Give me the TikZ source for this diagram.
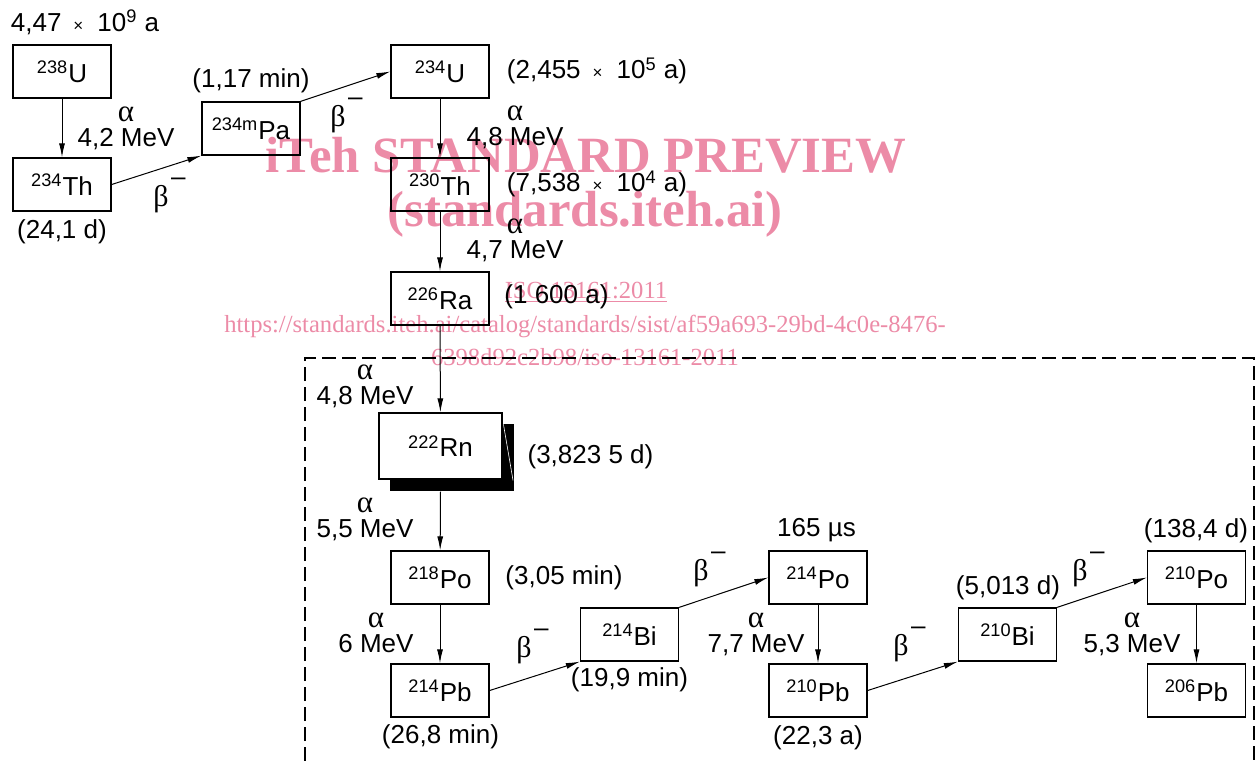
\documentclass[tikz,border=0pt]{standalone}
\usepackage{fontspec}
\setmainfont{Liberation Sans}
\newfontfamily\wmfont{Liberation Serif}
\usetikzlibrary{arrows.meta}

\definecolor{wmpink}{RGB}{236,139,167}

% upright greek letters, minus raised over the beta and not counted in the node size
\newcommand{\alphalbl}{{\wmfont\fontsize{15.5}{12.5}\selectfont α}}
\newcommand{\betaminus}{{\wmfont\fontsize{15}{15}\selectfont β}\rlap{\smash{\raisebox{0.8em}{\kern1.2pt\textendash}}}}
\newcommand{\tms}{{\fontsize{8.5}{8.5}\selectfont ×}}

\begin{document}
\begin{tikzpicture}[x=0.5pt, y=-0.5pt, font=\fontsize{13}{12.5}\selectfont,
  nuc/.style={draw, line width=0.65pt, minimum width=49pt, minimum height=26.5pt, inner sep=0pt},
  arr/.style={line width=0.5pt, -{Latex[length=7pt,width=3pt]}},
  decay/.style={align=center, inner sep=0pt},
  wm/.style={text=wmpink, inner sep=0pt}]

  \useasboundingbox (0,0) rectangle (1260,761);

  % watermark
  \node[wm, font=\wmfont\bfseries\fontsize{25.4}{28}\selectfont] (wmA) at (586,155) {iTeh STANDARD PREVIEW};
  \node[wm, font=\wmfont\bfseries\fontsize{25.4}{28}\selectfont] (wmB) at (585,214) {(standards.iteh.ai)};
  \node[wm, font=\wmfont\fontsize{12.3}{14}\selectfont] (wmC) at (586,292) {\underline{ISO 13161:2011}};
  \node[wm, font=\wmfont\fontsize{12.3}{14}\selectfont] (wmD) at (585,326)
    {https://standards.iteh.ai/catalog/standards/sist/af59a693-29bd-4c0e-8476-};
  \node[wm, font=\wmfont\fontsize{12.3}{14}\selectfont] (wmE) at (585,357) {6398d92c2b98/iso-13161-2011};

  % dashed frame round the radon part
  \draw[line width=0.65pt, dash pattern=on 7pt off 3pt] (305,761) -- (305,358) -- (1254,358) -- (1254,761);

  % upper chain
  \node[nuc] (U238) at (62,71.5) {\textsuperscript{238}U};
  \node[nuc] (Th234) at (62,184.5) {\textsuperscript{234}Th};
  \node[nuc] (Pa234) at (251,128.5) {\textsuperscript{234m}Pa};
  \node[nuc] (U234) at (440,71.5) {\textsuperscript{234}U};
  \node[nuc] (Th230) at (440,184.5) {\textsuperscript{230}Th};
  \node[nuc] (Ra226) at (440,298.5) {\textsuperscript{226}Ra};

  % radon with its stack
  \node[nuc, minimum width=61.5pt, minimum height=33pt] (Rn222) at (440.5,446) {};
  \fill[black] ([xshift=5.75pt,yshift=-5.75pt]Rn222.south west) rectangle ([xshift=5.75pt,yshift=-5.75pt]Rn222.north east);
  \draw[white, line width=0.3pt] ([xshift=0.4pt,yshift=-6pt]Rn222.north east) -- ([xshift=5.2pt,yshift=-0.4pt]Rn222.south east);
  \node[nuc, fill=white, minimum width=61.5pt, minimum height=33pt] (Rn222) at (440.5,446) {\textsuperscript{222}Rn};

  % lower chain
  \node[nuc] (Po218) at (440,577.5) {\textsuperscript{218}Po};
  \node[nuc] (Pb214) at (440,690.5) {\textsuperscript{214}Pb};
  \node[nuc] (Bi214) at (629.5,634.5) {\textsuperscript{214}Bi};
  \node[nuc] (Po214) at (818,577.5) {\textsuperscript{214}Po};
  \node[nuc] (Pb210) at (818,690.5) {\textsuperscript{210}Pb};
  \node[nuc] (Bi210) at (1007.5,634.5) {\textsuperscript{210}Bi};
  \node[nuc] (Po210) at (1196.5,577.5) {\textsuperscript{210}Po};
  \node[nuc] (Pb206) at (1196.5,690.5) {\textsuperscript{206}Pb};

  % decays
  \draw[arr] (U238) -- (Th234);
  \draw[arr] (Th234.east) -- (Pa234.south west);
  \draw[arr] (Pa234.north east) -- (U234.west);
  \draw[arr] (U234) -- (Th230);
  \draw[arr] (Th230) -- (Ra226);
  \draw[arr] (Ra226) -- (Rn222);
  \draw[arr] (Rn222.south) ++(0,12) -- (Po218);
  \draw[arr] (Po218) -- (Pb214);
  \draw[arr] (Pb214.east) -- (Bi214.south west);
  \draw[arr] (Bi214.north east) -- (Po214.west);
  \draw[arr] (Po214) -- (Pb210);
  \draw[arr] (Pb210.east) -- (Bi210.south west);
  \draw[arr] (Bi210.north east) -- (Po210.west);
  \draw[arr] (Po210) -- (Pb206);

  % half-lives
  \node (tU238) at (85,22) {4,47\hspace{6pt}\tms\hspace{7pt}10\textsuperscript{9} a};
  \node (tTh234) at (62,232) {(24,1 d)};
  \node (tPa234) at (251,81) {(1,17 min)};
  \node (tU234) at (597,71) {(2,455\hspace{6pt}\tms\hspace{7pt}10\textsuperscript{5} a)};
  \node (tTh230) at (597,184) {(7,538\hspace{6pt}\tms\hspace{7pt}10\textsuperscript{4} a)};
  \node (tRa226) at (556.5,297) {(1 600 a)};
  \node (tRn222) at (590.5,457) {(3,823 5 d)};
  \node (tPo218) at (564,578) {(3,05 min)};
  \node (tPb214) at (440.5,737) {(26,8 min)};
  \node (tBi214) at (629.5,680) {(19,9 min)};
  \node (tPo214) at (816.5,530) {165 µs};
  \node (tPb210) at (818,738) {(22,3 a)};
  \node (tBi210) at (1008,588) {(5,013 d)};
  \node (tPo210) at (1196,531) {(138,4 d)};

  % alpha energies
  \node[decay] (aU238) at (126,128) {\alphalbl\\4,2 MeV};
  \node[decay] (aU234) at (515,127) {\alphalbl\\4,8 MeV};
  \node[decay] (aTh230) at (515,240.5) {\alphalbl\\4,7 MeV};
  \node[decay] (aRa226) at (365,386) {\alphalbl\\4,8 MeV};
  \node[decay] (aRn222) at (365,519) {\alphalbl\\5,5 MeV};
  \node[decay] (aPo218) at (376,633) {\alphalbl\\6 MeV};
  \node[decay] (aPo214) at (756,634) {\alphalbl\\7,7 MeV};
  \node[decay] (aPo210) at (1132,634) {\alphalbl\\5,3 MeV};

  % beta labels
  \node[inner sep=0pt] (bTh234) at (161,199) {\betaminus};
  \node[inner sep=0pt] (bPa234) at (338,119) {\betaminus};
  \node[inner sep=0pt] (bPb214) at (524,650) {\betaminus};
  \node[inner sep=0pt] (bBi214) at (701,573) {\betaminus};
  \node[inner sep=0pt] (bPb210) at (901,648) {\betaminus};
  \node[inner sep=0pt] (bBi210) at (1080,573) {\betaminus};

\end{tikzpicture}
\end{document}
